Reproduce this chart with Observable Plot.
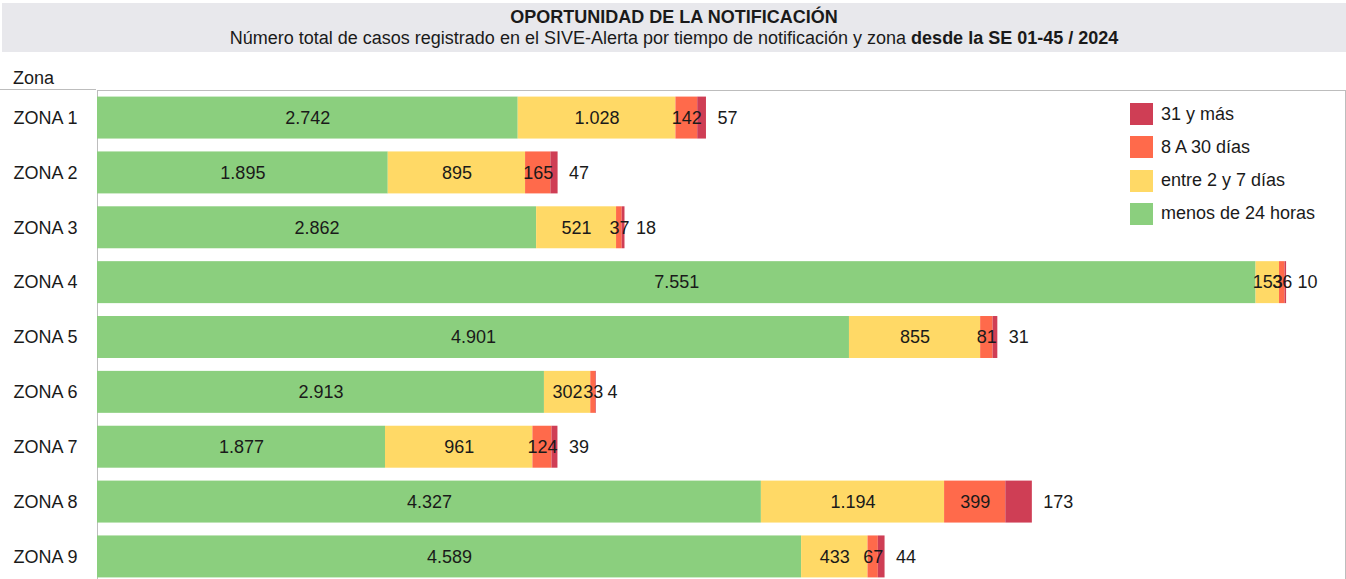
<!DOCTYPE html>
<html><head><meta charset="utf-8">
<script src="https://cdn.jsdelivr.net/npm/d3@7"></script>
<script src="https://cdn.jsdelivr.net/npm/@observablehq/plot@0.6"></script>
<style>
body{margin:0;font-family:"Liberation Sans",Arial,sans-serif;background:#fff;width:1346px;height:579px;overflow:hidden;position:relative;color:#1a1a1a}
#title{position:absolute;left:2px;top:3px;width:1344px;height:49px;background:#e8e8ec;text-align:center}
#t1{font-weight:bold;font-size:18px;line-height:20px;padding-top:4px}
#t2{font-size:18px;line-height:22px}
#zona{position:absolute;left:13px;top:67px;font-size:18px;line-height:22px}
#hline{position:absolute;left:0;top:89px;width:96px;height:1px;background:#bdbdbd}
#chart{position:absolute;left:0;top:52px}
#legend{position:absolute;left:1130px;top:103px;font-size:18px}
.li{display:flex;align-items:center;height:22px;margin-bottom:11.3px}
.sw{width:23px;height:22px;margin-right:8px}
</style></head>
<body>
<div id="title"><div id="t1">OPORTUNIDAD DE LA NOTIFICACIÓN</div><div id="t2">Número total de casos registrado en el SIVE-Alerta por tiempo de notificación y zona <b>desde la SE 01-45 / 2024</b></div></div>
<div id="zona">Zona</div>
<div id="hline"></div>
<div id="chart"></div>
<div id="legend"></div>
<script>
const zonas = ["ZONA 1","ZONA 2","ZONA 3","ZONA 4","ZONA 5","ZONA 6","ZONA 7","ZONA 8","ZONA 9"];
const series = ["menos de 24 horas","entre 2 y 7 días","8 A 30 días","31 y más"];
const colors = ["#8bcf7e","#ffd966","#ff6a4b","#cf3e55"];
const menos24 = [2742, 1895, 2862, 7551, 4901, 2913, 1877, 4327, 4589];
const entre2y7 = [1028, 895, 521, 153, 855, 302, 961, 1194, 433];
const de8a30 = [142, 165, 37, 36, 81, 33, 124, 399, 67];
const mas31 = [57, 47, 18, 10, 31, 4, 39, 173, 44];

const valuesBySerie = [menos24, entre2y7, de8a30, mas31];
const rows = [];
zonas.forEach((z, i) => series.forEach((s, j) => rows.push({zona: z, serie: s, value: valuesBySerie[j][i]})));
const totals = zonas.map((z, i) => ({zona: z, total: valuesBySerie.reduce((a, arr) => a + arr[i], 0), last: mas31[i]}));

const fmt = d3.formatLocale({decimal: ",", thousands: ".", grouping: [3], currency: ["", "€"]}).format(",d");

const plot = Plot.plot({
  width: 1346,
  height: 552,
  marginTop: 38,
  marginBottom: 20,
  marginLeft: 97,
  marginRight: 1,
  style: {fontFamily: '"Liberation Sans", Arial, sans-serif', fontSize: "18px", color: "#1a1a1a", background: "transparent"},
  x: {domain: [0, 8134], axis: null},
  y: {domain: zonas, paddingInner: 0.235, paddingOuter: 0.12, round: false, label: null},
  color: {domain: series, range: colors},
  marks: [
    Plot.frame({stroke: "#bdbdbd"}),
    Plot.barX(rows, Plot.stackX({x: "value", y: "zona", fill: "serie", z: "serie"})),
    Plot.text(rows.filter(d => d.serie !== "31 y más"), Plot.stackX({x: "value", y: "zona", z: "serie", text: d => fmt(d.value), fill: "#1a1a1a"})),
    Plot.text(totals, {x: "total", y: "zona", text: d => fmt(d.last), textAnchor: "start", dx: 11, fill: "#1a1a1a"}),
    Plot.axisY({tickSize: 0, tickPadding: 20, fontSize: 18, label: null})
  ]
});
document.getElementById("chart").appendChild(plot);

const leg = document.getElementById("legend");
[3, 2, 1, 0].forEach(j => {
  const d = document.createElement("div");
  d.className = "li";
  d.innerHTML = `<span class="sw" style="background:${colors[j]}"></span><span>${series[j]}</span>`;
  leg.appendChild(d);
});
</script>
</body></html>
